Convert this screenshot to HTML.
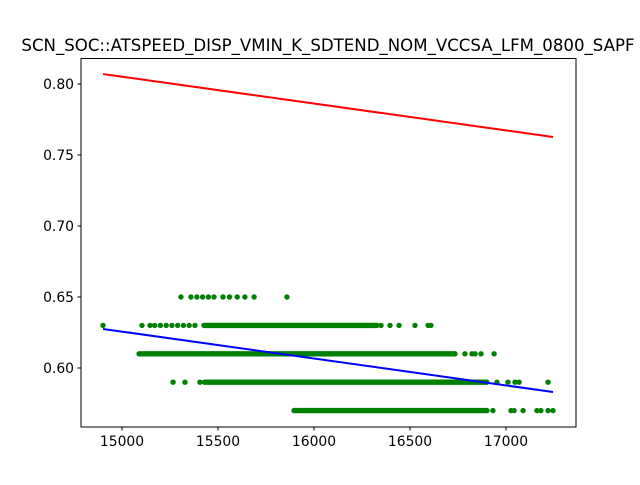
<!DOCTYPE html>
<html><head><meta charset="utf-8"><style>
body{margin:0;background:#fff}
svg text{font-family:"DejaVu Sans","Liberation Sans",sans-serif;fill:#000}
</style></head><body>
<svg id="chart" width="640" height="480" xmlns="http://www.w3.org/2000/svg">
<rect width="640" height="480" fill="#fff"/>
<text x="328" y="51" text-anchor="middle" font-size="16.6">SCN_SOC::ATSPEED_DISP_VMIN_K_SDTEND_NOM_VCCSA_LFM_0800_SAPF</text>
<g id="marks"></g>
<rect x="81" y="58.5" width="495" height="368.5" fill="none" stroke="#000" stroke-width="1"/>
<g id="axes"></g>
</svg>
<script>
const xTicks=[15000,15500,16000,16500,17000];
const yTicks=[0.60,0.65,0.70,0.75,0.80];
// dense bands of points: [y, xStart, xEnd]
const bandY=[0.63,0.61,0.59,0.57];
const bandStart=[15427,15089,15430,15896];
const bandEnd=[16328,16734,16900,16901];
// isolated points
const ptX=[15307,15359,15390,15420,15450,15479,15526,15560,15600,15640,15688,15859,
14901,15104,15146,15170,15200,15230,15260,15290,15320,15350,15380,16349,16396,16443,16526,16594,16609,
16786,16823,16839,16870,16938,
15266,15328,15406,16953,17010,17047,17068,17219,
16932,17026,17042,17089,17161,17182,17219,17245];
const ptY=[0.65,0.65,0.65,0.65,0.65,0.65,0.65,0.65,0.65,0.65,0.65,0.65,
0.63,0.63,0.63,0.63,0.63,0.63,0.63,0.63,0.63,0.63,0.63,0.63,0.63,0.63,0.63,0.63,0.63,
0.61,0.61,0.61,0.61,0.61,
0.59,0.59,0.59,0.59,0.59,0.59,0.59,0.59,
0.57,0.57,0.57,0.57,0.57,0.57,0.57,0.57];
const redLine=[[14901,0.807],[17245,0.7627]];
const blueLine=[[14901,0.6275],[17245,0.5831]];
const NS="http://www.w3.org/2000/svg";
function sx(v){return 122+(v-15000)*0.192;}
function sy(v){return 368-(v-0.60)*1420;}
function mk(t,a,p){const e=document.createElementNS(NS,t);for(const k in a)e.setAttribute(k,a[k]);p.appendChild(e);return e;}
const marks=document.getElementById('marks'),axes=document.getElementById('axes');
for(let i=0;i<bandY.length;i++){
 const l=mk('line',{x1:sx(bandStart[i]),x2:sx(bandEnd[i]),y1:sy(bandY[i]),y2:sy(bandY[i]),stroke:'#008000','stroke-width':5.4,'stroke-linecap':'round'},marks);
 
 
}
for(let i=0;i<ptX.length;i++){
 const c=mk('circle',{cx:sx(ptX[i]),cy:sy(ptY[i]),r:2.7,fill:'#008000'},marks);
 
 
}
const r=mk('line',{x1:sx(redLine[0][0]),y1:sy(redLine[0][1]),x2:sx(redLine[1][0]),y2:sy(redLine[1][1]),stroke:'#ff0000','stroke-width':2},marks);


const b=mk('line',{x1:sx(blueLine[0][0]),y1:sy(blueLine[0][1]),x2:sx(blueLine[1][0]),y2:sy(blueLine[1][1]),stroke:'#0000ff','stroke-width':2},marks);


xTicks.forEach(v=>{
 const x=sx(v);
 const t=mk('line',{x1:x,x2:x,y1:427,y2:430.5,stroke:'#000'},axes);
 
 
 const tx=mk('text',{x:x,y:446,'text-anchor':'middle','font-size':13.9},axes);
 tx.textContent=v;
 
 
});
yTicks.forEach(v=>{
 const y=sy(v);
 const t=mk('line',{x1:77.5,x2:81,y1:y,y2:y,stroke:'#000'},axes);
 
 
 const tx=mk('text',{x:74,y:y+5,'text-anchor':'end','font-size':13.9},axes);
 tx.textContent=v.toFixed(2);
 
 
});
</script>
</body></html>
